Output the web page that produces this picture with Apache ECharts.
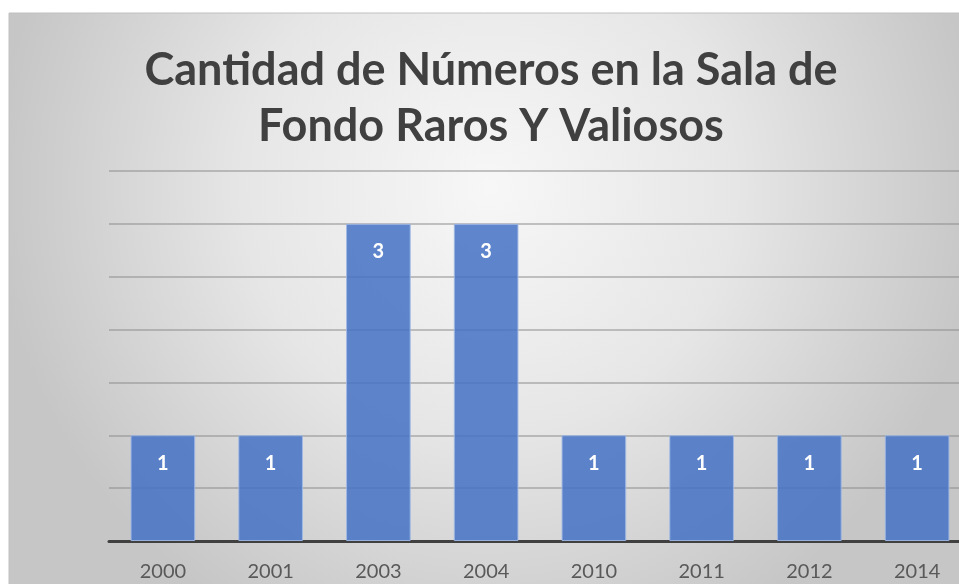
<!DOCTYPE html>
<html>
<head>
<meta charset="utf-8">
<script src="https://cdn.jsdelivr.net/npm/echarts@6/dist/echarts.min.js"></script>
<style>
  html, body { margin: 0; padding: 0; background: #fff; }
  #chart { width: 959px; height: 584px; }
</style>
</head>
<body>
<div id="chart"></div>
<script>
const years = ['2000', '2001', '2003', '2004', '2010', '2011', '2012', '2014']
const counts = [1, 1, 3, 3, 1, 1, 1, 1]
const titleLines = ['Cantidad de Números en la Sala de', 'Fondo Raros Y Valiosos']

const chart = echarts.init(document.getElementById('chart'))

const option = {
  animation: false,
  graphic: [
    {
      type: 'rect',
      z: -10,
      shape: { x: 9, y: 13, width: 960, height: 580 },
      style: {
        fill: new echarts.graphic.RadialGradient(0.5, 0.3, 0.85, [
          { offset: 0, color: '#f7f7f7' },
          { offset: 0.5, color: '#e6e6e6' },
          { offset: 1, color: '#c6c6c6' }
        ]),
        stroke: '#c0c0c0',
        lineWidth: 1
      }
    }
  ],
  title: {
    text: titleLines.join('\n'),
    left: 486,
    textAlign: 'center',
    top: 37,
    textStyle: {
      fontFamily: 'Lato',
      fontWeight: 'bold',
      fontSize: 45,
      lineHeight: 56,
      color: '#404040'
    }
  },
  grid: {
    left: 109,
    top: 171,
    width: 862,
    height: 370,
    outerBoundsMode: 'none'
  },
  xAxis: {
    type: 'category',
    data: years,
    axisLine: { lineStyle: { color: '#404040', width: 3 } },
    axisTick: { show: false },
    axisLabel: {
      fontFamily: 'Lato',
      fontSize: 20,
      color: '#595959',
      margin: 21
    }
  },
  yAxis: {
    type: 'value',
    min: 0,
    max: 3.5,
    interval: 0.5,
    axisLabel: { show: false },
    axisLine: { show: false },
    axisTick: { show: false },
    splitLine: { lineStyle: { color: '#8c8c8c', width: 2, opacity: 0.5 } }
  },
  series: [
    {
      type: 'bar',
      data: counts,
      barWidth: '60%',
      itemStyle: {
        color: 'rgba(68, 114, 196, 0.85)',
        borderColor: 'rgba(160, 185, 230, 0.9)',
        borderWidth: 1
      },
      label: {
        show: true,
        position: 'insideTop',
        distance: 18,
        fontFamily: 'Lato',
        fontWeight: 'bold',
        fontSize: 20,
        color: '#ffffff'
      }
    }
  ]
}
option && chart.setOption(option)
</script>
</body>
</html>
